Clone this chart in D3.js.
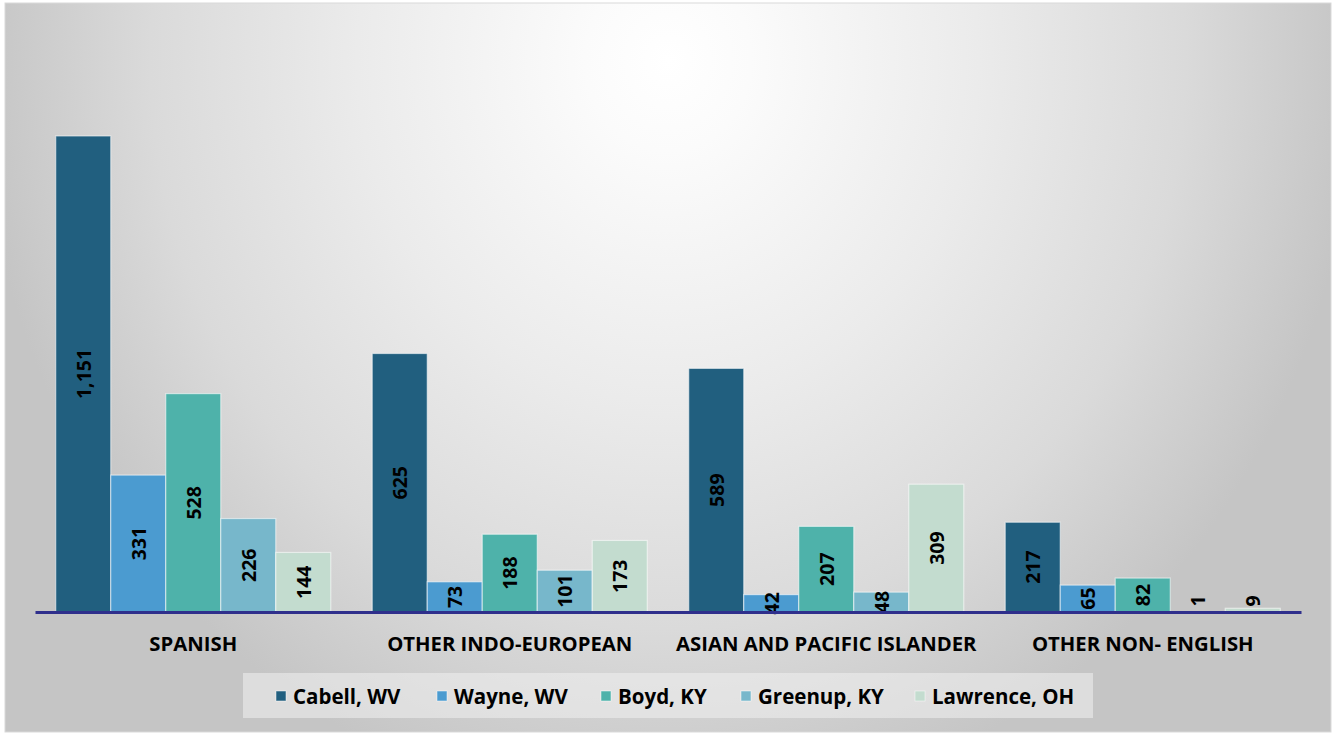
<!DOCTYPE html>
<html>
<head>
<meta charset="utf-8">
<script src="https://cdn.jsdelivr.net/npm/d3@7"></script>
<style>
  html, body { margin: 0; padding: 0; background: #ffffff; }
  svg { display: block; }
  text { font-family: "Open Sans", "Noto Sans", sans-serif; font-weight: bold; fill: #000; }
</style>
</head>
<body>
<svg id="chart" width="1335" height="734"></svg>
<script>
// ---- data ----
const categories = ["SPANISH", "OTHER INDO-EUROPEAN", "ASIAN AND PACIFIC ISLANDER", "OTHER NON- ENGLISH"];
const seriesNames = ["Cabell, WV", "Wayne, WV", "Boyd, KY", "Greenup, KY", "Lawrence, OH"];
const cabell   = [1151, 625, 589, 217];
const wayne    = [331, 73, 42, 65];
const boyd     = [528, 188, 207, 82];
const greenup  = [226, 101, 48, 1];
const lawrence = [144, 173, 309, 9];
const seriesColors = ["#215f7f", "#4b9bd0", "#4eb2aa", "#77b7cb", "#c3dccf"];
const yMax = 1400;

const seriesValues = [cabell, wayne, boyd, greenup, lawrence];

const svg = d3.select("#chart");

// background gradient
const defs = svg.append("defs");
const grad = defs.append("radialGradient")
  .attr("id", "bg")
  .attr("gradientUnits", "userSpaceOnUse")
  .attr("cx", 668).attr("cy", 60).attr("r", 690)
  .attr("fx", 668).attr("fy", 60)
  .attr("gradientTransform", "translate(668,60) scale(1,1.1) translate(-668,-60)");
grad.append("stop").attr("offset", 0).attr("stop-color", "#ffffff");
grad.append("stop").attr("offset", 0.12).attr("stop-color", "#fbfbfb");
grad.append("stop").attr("offset", 0.45).attr("stop-color", "#ebebeb");
grad.append("stop").attr("offset", 0.75).attr("stop-color", "#dadada");
grad.append("stop").attr("offset", 1).attr("stop-color", "#c5c5c5");

svg.append("rect")
  .attr("x", 5).attr("y", 3).attr("width", 1326).attr("height", 729)
  .attr("fill", "url(#bg)")
  .attr("stroke", "#d9d9d9").attr("stroke-width", 1);

// scales
const plotLeft = 35, plotRight = 1301, baseY = 612, plotTop = 33;
const x0 = d3.scaleBand().domain(categories).range([plotLeft, plotRight])
  .paddingInner(0.131).paddingOuter(0.0655);
const x1 = d3.scaleBand().domain(seriesNames).range([0, x0.bandwidth()]).padding(0);
const y = d3.scaleLinear().domain([0, yMax]).range([baseY, plotTop]);

const rows = [];
categories.forEach((c, ci) => {
  seriesNames.forEach((s, si) => {
    rows.push({ cat: c, series: s, si, value: seriesValues[si][ci] });
  });
});

const g = svg.append("g");
g.selectAll("rect.bar").data(rows).join("rect")
  .attr("class", "bar")
  .attr("x", d => x0(d.cat) + x1(d.series))
  .attr("y", d => y(d.value))
  .attr("width", x1.bandwidth())
  .attr("height", d => baseY - y(d.value))
  .attr("fill", d => seriesColors[d.si])
  .attr("stroke", "rgba(255,255,255,0.55)")
  .attr("stroke-width", 1.2);

// baseline axis
const xAxis = d3.axisBottom(x0).tickSize(0).tickPadding(0);
const axisG = svg.append("g").attr("transform", `translate(0,${baseY})`).call(xAxis);
axisG.select(".domain").attr("stroke", "#2f2f8c").attr("stroke-width", 3);
axisG.selectAll(".tick text")
  .attr("dy", null)
  .attr("y", 39)
  .style("font-family", "'Open Sans', 'Noto Sans', sans-serif")
  .style("font-weight", "bold")
  .style("font-size", "20.3px")
  .attr("fill", "#000");

// value labels
const fmt = d3.format(",");
g.selectAll("text.val").data(rows).join("text")
  .attr("class", "val")
  .attr("transform", d => {
    const cx = x0(d.cat) + x1(d.series) + x1.bandwidth() / 2;
    const h = baseY - y(d.value);
    const cy = h < 8 ? baseY - 11 : (y(d.value) + baseY) / 2;
    return `translate(${cx},${cy}) rotate(-90)`;
  })
  .attr("text-anchor", "middle")
  .attr("dominant-baseline", "central")
  .style("font-size", "19.5px")
  .text(d => fmt(d.value));

// legend
const lg = svg.append("g");
lg.append("rect").attr("x", 243).attr("y", 673).attr("width", 850).attr("height", 45)
  .attr("fill", "rgba(240,240,240,0.55)");
const legendX = [276, 437, 601, 741, 915];
const items = lg.selectAll("g.item").data(seriesNames).join("g")
  .attr("class", "item")
  .attr("transform", (d, i) => `translate(${legendX[i]},696)`);
items.append("rect").attr("x", 0).attr("y", -5).attr("width", 10).attr("height", 10)
  .attr("fill", (d, i) => seriesColors[i])
  .attr("stroke", "rgba(255,255,255,0.6)").attr("stroke-width", 0.8);
items.append("text").attr("x", 17).attr("y", 0)
  .attr("dominant-baseline", "central")
  .style("font-size", "20.5px")
  .text(d => d);
</script>
</body>
</html>
